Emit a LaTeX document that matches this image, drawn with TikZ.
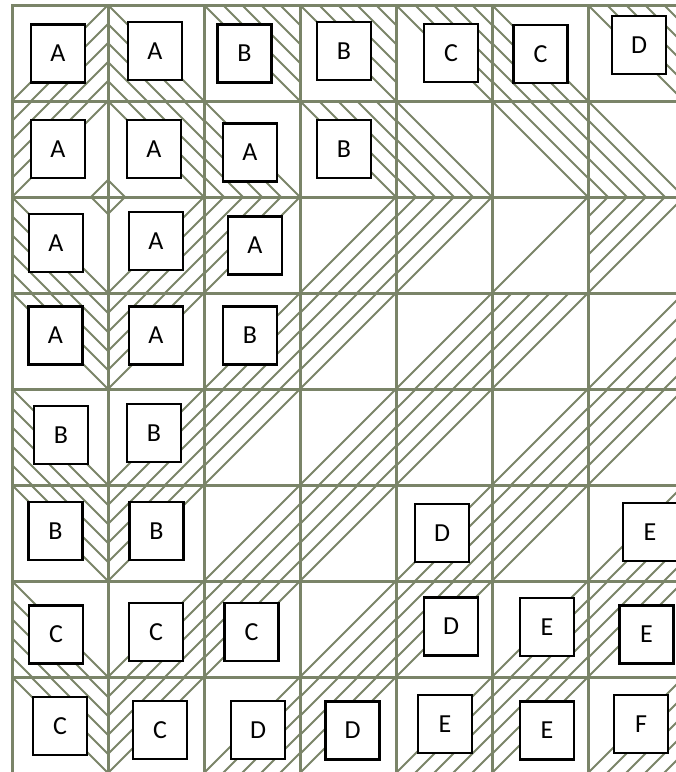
\documentclass[tikz,border=0pt]{standalone}
\usepackage{fontspec}
\setmainfont{Carlito}
\definecolor{olivegrid}{RGB}{122,132,104}
\tikzset{
  gline/.style={draw=olivegrid,line width=3pt,line cap=rect},
  hatch/.style={draw=olivegrid,line width=2.1pt},
  lbox/.style={draw=black,fill=white,line width=2.2pt,minimum width=54pt,minimum height=58pt,inner sep=0pt,font=\fontsize{26}{30}\selectfont}
}
% hatched half of a 96x96 cell, #1 = number of strokes
\newcommand{\hatchTL}[1]{%
  \foreach \k in {1,...,#1}{\pgfmathsetmacro{\hc}{96-(\k-1)*19}\draw[hatch] (0,\hc) -- (\hc,0);}}
\newcommand{\hatchBR}[1]{%
  \foreach \k in {1,...,#1}{\pgfmathsetmacro{\hc}{(\k-1)*19}\draw[hatch] (\hc,96) -- (96,\hc);}}
\newcommand{\hatchTR}[1]{%
  \foreach \k in {1,...,#1}{\pgfmathsetmacro{\hc}{(\k-1)*19}\draw[hatch] (\hc,0) -- (96,96-\hc);}}
\newcommand{\hatchBL}[1]{%
  \foreach \k in {1,...,#1}{\pgfmathsetmacro{\hc}{(\k-1)*19}\draw[hatch] (0,\hc) -- (96-\hc,96);}}

\begin{document}
\begin{tikzpicture}[x=1pt,y=-1pt]
  \useasboundingbox (0,0) rectangle (676,772);
  \clip (0,0) rectangle (676,772);

  % hatching, col/row/side/strokes
  \foreach \col/\row/\typ/\nl in {
    1/1/BR/5, 2/1/BL/5, 3/1/TR/5, 4/1/TR/5, 5/1/TR/5, 6/1/BL/5, 7/1/TR/5,
    1/2/TL/5, 2/2/TR/5, 3/2/BL/5, 4/2/TR/5, 5/2/BL/5, 6/2/TR/5, 7/2/BL/5,
    1/3/BL/5, 2/3/BR/5, 3/3/TL/5, 4/3/BR/5, 5/3/TL/5, 6/3/TL/1, 7/3/TL/5,
    1/4/TR/5, 2/4/TL/5, 3/4/BR/5, 4/4/TL/5, 5/4/BR/5, 6/4/TL/5, 7/4/BR/5,
    1/5/BL/5, 2/5/BR/5, 3/5/TL/5, 4/5/BR/5, 5/5/TL/5, 6/5/BR/5, 7/5/TL/5,
    1/6/TR/5, 2/6/TL/5, 3/6/BR/5, 4/6/TL/5, 5/6/BR/5, 6/6/TL/5, 7/6/BR/5,
    1/7/BL/5, 2/7/BR/5, 3/7/TL/5, 4/7/BR/5, 5/7/TL/5, 6/7/BR/5, 7/7/TL/5,
    1/8/TR/5, 2/8/TL/5, 3/8/BR/5, 4/8/TL/5, 5/8/BR/5, 6/8/TL/5, 7/8/BR/5}
  {
    \begin{scope}[shift={(12+96*\col-96,5+96*\row-96)}]
      \csname hatch\typ\endcsname{\nl}
    \end{scope}
  }
  \draw[hatch] (91,197) -- (108,180) -- (125,197) -- (108,214) -- cycle;

  % grid
  \foreach \i in {0,...,6}
    \draw[gline] (12+96*\i,5) -- (12+96*\i,780);
  \foreach \j in {0,...,7}
    \draw[gline] (12,5+96*\j) -- (690,5+96*\j);

  % letter boxes
  \foreach \nm/\x/\y/\txt in {
    b11/58/53.5/A, b12/155/51/A, b13/244.5/53.5/B, b14/344/51/B, b15/451/53/C, b16/540.5/54/C, b17/639/45/D,
    b21/58/149/A, b22/154/149/A, b23/250/152.5/A, b24/344/149/B,
    b31/56/243/A, b32/156/241/A, b33/255/245.5/A,
    b41/55.5/335.5/A, b42/156/335.5/A, b43/250/335.5/B,
    b51/61/435/B, b52/154/433/B,
    b61/55.5/531/B, b62/156.5/531/B, b65/442/533/D, b67/650/532/E,
    b71/56/634.5/C, b72/156/632/C, b73/251.5/632/C, b75/451/626.5/D, b76/547/627/E, b77/646.5/634.5/E,
    b81/60/726/C, b82/160/730/C, b83/258/730/D, b84/352.5/730.5/D, b85/445/724/E, b86/547/730.5/E, b87/641/724/F}
    \node[lbox] (\nm) at (\x,\y) {\txt};
\end{tikzpicture}
\end{document}
